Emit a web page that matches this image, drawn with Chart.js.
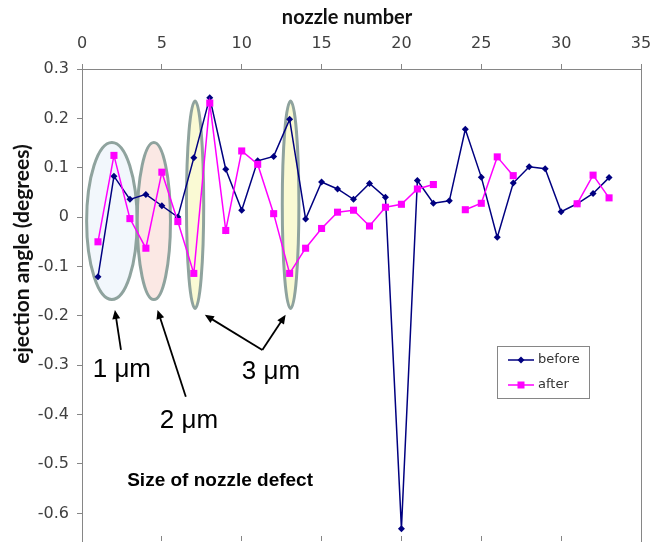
<!DOCTYPE html>
<html>
<head>
<meta charset="utf-8">
<title>ejection angle</title>
<script src="https://cdn.jsdelivr.net/npm/chart.js@4.4.0/dist/chart.umd.min.js"></script>
<style>
  body { margin: 0; background: #fff; }
  #wrap { width: 664px; height: 542px; overflow: hidden; }
</style>
</head>
<body>
<div id="wrap"><canvas id="grafico" width="664" height="542"></canvas></div>
<script>
const nozzles = [1, 2, 3, 4, 5, 6, 7, 8, 9, 10, 11, 12, 13, 14, 15, 16, 17,
  18, 19, 20, 21, 22, 23, 24, 25, 26, 27, 28, 29, 30, 31, 32, 33];
const before = [-0.121, 0.083, 0.036, 0.046, 0.023, 0.0, 0.12, 0.242, 0.097,
  0.014, 0.114, 0.123, 0.198, -0.004, 0.071, 0.057, 0.036, 0.068, 0.04,
  -0.631, 0.074, 0.028, 0.033, 0.178, 0.081, -0.041, 0.069, 0.102, 0.098,
  0.011, 0.027, 0.048, 0.08];
const after = [-0.05, 0.125, -0.003, -0.063, 0.091, -0.009, -0.114, 0.231,
  -0.027, 0.134, 0.107, 0.007, -0.114, -0.063, -0.023, 0.01, 0.014, -0.018,
  0.02, 0.026, 0.057, 0.066, null, 0.015, 0.028, 0.122, 0.084, null, null,
  null, 0.027, 0.085, 0.039];
const xTicks = [0, 5, 10, 15, 20, 25, 30, 35];
const yTicks = [0.3, 0.2, 0.1, 0, -0.1, -0.2, -0.3, -0.4, -0.5, -0.6];

// anotacoes do grafico, em unidades dos eixos
const ellipses = [
  { x: 1.87, y: -0.008, rx: 1.58, ry: 0.159, fill: "#f2f7fc" },
  { x: 4.5, y: -0.008, rx: 1.04, ry: 0.159, fill: "#fbe8e4" },
  { x: 7.08, y: 0.025, rx: 0.54, ry: 0.21, fill: "#fafad4" },
  { x: 13.06, y: 0.025, rx: 0.52, ry: 0.21, fill: "#fafad4" },
];
const arrows = [
  { from: [2.44, -0.269], to: [2.06, -0.188] },
  { from: [6.5, -0.364], to: [4.73, -0.188] },
  { from: [11.29, -0.269], to: [7.69, -0.198] },
  { from: [11.29, -0.269], to: [12.75, -0.198] },
];
const sizeLabels = [
  { text: "1 \u03bcm", x: 0.67, y: -0.324 },
  { text: "2 \u03bcm", x: 4.875, y: -0.427 },
  { text: "3 \u03bcm", x: 10.0, y: -0.328 },
];

const gray = "#868686";
const tickFont = { family: "DejaVu Sans", size: 16 };

function drawArrow(ctx, x1, y1, x2, y2) {
  const ang = Math.atan2(y2 - y1, x2 - x1);
  const len = 9;
  ctx.beginPath();
  ctx.moveTo(x1, y1);
  ctx.lineTo(x2 - Math.cos(ang) * len * 0.8, y2 - Math.sin(ang) * len * 0.8);
  ctx.stroke();
  ctx.beginPath();
  ctx.moveTo(x2, y2);
  ctx.lineTo(x2 - Math.cos(ang) * len + Math.sin(ang) * 4, y2 - Math.sin(ang) * len - Math.cos(ang) * 4);
  ctx.lineTo(x2 - Math.cos(ang) * len - Math.sin(ang) * 4, y2 - Math.sin(ang) * len + Math.cos(ang) * 4);
  ctx.closePath();
  ctx.fill();
}

const notas = {
  id: "notas",
  beforeDatasetsDraw(chart) {
    const { ctx } = chart;
    const x = chart.scales.x;
    const y = chart.scales.y;
    ctx.save();
    ellipses.forEach((e) => {
      const cx = x.getPixelForValue(e.x);
      const cy = y.getPixelForValue(e.y);
      const rx = x.getPixelForValue(e.x + e.rx) - cx;
      const ry = cy - y.getPixelForValue(e.y + e.ry);
      ctx.beginPath();
      ctx.ellipse(cx, cy, rx, ry, 0, 0, Math.PI * 2);
      ctx.fillStyle = e.fill;
      ctx.fill();
      ctx.lineWidth = 3;
      ctx.strokeStyle = "#8fa39e";
      ctx.stroke();
    });
    ctx.restore();
  },
  afterDraw(chart) {
    const { ctx } = chart;
    const x = chart.scales.x;
    const y = chart.scales.y;
    ctx.save();

    // setas
    ctx.strokeStyle = "#000";
    ctx.fillStyle = "#000";
    ctx.lineWidth = 1.8;
    arrows.forEach((a) => {
      drawArrow(ctx,
        x.getPixelForValue(a.from[0]), y.getPixelForValue(a.from[1]),
        x.getPixelForValue(a.to[0]), y.getPixelForValue(a.to[1]));
    });

    // textos
    ctx.textAlign = "left";
    ctx.textBaseline = "alphabetic";
    ctx.font = "26px 'Liberation Sans'";
    sizeLabels.forEach((l) => {
      ctx.fillText(l.text, x.getPixelForValue(l.x), y.getPixelForValue(l.y));
    });
    ctx.font = "bold 19px 'Liberation Sans'";
    ctx.fillText("Size of nozzle defect", x.getPixelForValue(2.83), y.getPixelForValue(-0.545));

    // titulos dos eixos
    ctx.fillStyle = "#111";
    ctx.font = "bold 20px Lato";
    ctx.textAlign = "center";
    ctx.fillText("nozzle number", 347, 24);
    ctx.save();
    ctx.translate(29, 254);
    ctx.rotate(-Math.PI / 2);
    ctx.font = "bold 21px Lato";
    ctx.fillText("ejection angle (degrees)", 0, 0);
    ctx.restore();

    // legenda
    const lx = 497, ly = 346;
    ctx.fillStyle = "#fff";
    ctx.fillRect(lx, ly, 92, 52);
    ctx.strokeStyle = gray;
    ctx.lineWidth = 1;
    ctx.strokeRect(lx + 0.5, ly + 0.5, 92, 52);
    ctx.font = "13px 'DejaVu Sans'";
    ctx.textAlign = "left";
    ctx.textBaseline = "middle";
    chart.data.datasets.forEach((ds, i) => {
      const yy = ly + 14 + i * 25;
      ctx.strokeStyle = ds.borderColor;
      ctx.lineWidth = 1.5;
      ctx.beginPath();
      ctx.moveTo(lx + 11, yy);
      ctx.lineTo(lx + 37, yy);
      ctx.stroke();
      ctx.fillStyle = ds.borderColor;
      ctx.beginPath();
      if (ds.pointStyle === "rect") {
        ctx.rect(lx + 24 - 3.5, yy - 3.5, 7, 7);
      } else {
        ctx.moveTo(lx + 24, yy - 3.5);
        ctx.lineTo(lx + 27.5, yy);
        ctx.lineTo(lx + 24, yy + 3.5);
        ctx.lineTo(lx + 20.5, yy);
        ctx.closePath();
      }
      ctx.fill();
      ctx.fillStyle = "#333";
      ctx.fillText(ds.label, lx + 41, yy);
    });
    ctx.restore();
  },
};

const grafico = document.getElementById("grafico").getContext("2d");

new Chart(grafico, {
  type: "line",
  data: {
    labels: nozzles,
    datasets: [
      {
        label: "before",
        data: before,
        borderColor: "#000080",
        backgroundColor: "#000080",
        borderWidth: 1.5,
        pointStyle: "rectRot",
        pointRadius: 3.5,
        pointBorderWidth: 0,
        tension: 0,
        order: 1,
      },
      {
        label: "after",
        data: after,
        borderColor: "#ff00ff",
        backgroundColor: "#ff00ff",
        borderWidth: 1.5,
        pointStyle: "rect",
        pointRadius: 5,
        pointBorderWidth: 0,
        tension: 0,
        spanGaps: false,
        order: 0,
      },
    ],
  },
  options: {
    responsive: false,
    animation: false,
    layout: { padding: 0, autoPadding: false },
    plugins: {
      legend: { display: false },
      tooltip: { enabled: false },
    },
    scales: {
      x: {
        type: "linear",
        position: "top",
        min: 0,
        max: 35,
        afterBuildTicks: (scale) => {
          scale.ticks = xTicks.map((v) => ({ value: v }));
        },
        afterFit: (scale) => {
          scale.height = 69;
          scale.paddingLeft = 0;
          scale.paddingRight = 0;
        },
        ticks: { font: tickFont, color: "#404040", padding: 11 },
        grid: { drawOnChartArea: false, tickLength: 5, color: gray },
        border: { color: gray },
      },
      x2: {
        type: "linear",
        position: "bottom",
        min: 0,
        max: 35,
        afterBuildTicks: (scale) => {
          scale.ticks = xTicks.map((v) => ({ value: v }));
        },
        afterFit: (scale) => {
          scale.height = 1;
        },
        ticks: { display: false },
        grid: { drawOnChartArea: false, tickLength: -5, color: gray },
        border: { display: false },
      },
      y: {
        type: "linear",
        position: "left",
        min: -0.656,
        max: 0.3,
        afterBuildTicks: (scale) => {
          scale.ticks = yTicks.map((v) => ({ value: v }));
        },
        afterFit: (scale) => {
          scale.width = 82;
          scale.paddingTop = 0;
          scale.paddingBottom = 0;
        },
        ticks: { font: tickFont, color: "#404040", padding: 8 },
        grid: { drawOnChartArea: false, tickLength: 5, color: gray },
        border: { color: gray },
      },
      y2: {
        type: "linear",
        position: "right",
        min: -0.656,
        max: 0.3,
        afterFit: (scale) => {
          scale.width = 23;
          scale.paddingTop = 0;
          scale.paddingBottom = 0;
        },
        ticks: { display: false },
        grid: { drawOnChartArea: false, drawTicks: false },
        border: { color: gray },
      },
    },
  },
  plugins: [notas],
});
</script>
</body>
</html>
